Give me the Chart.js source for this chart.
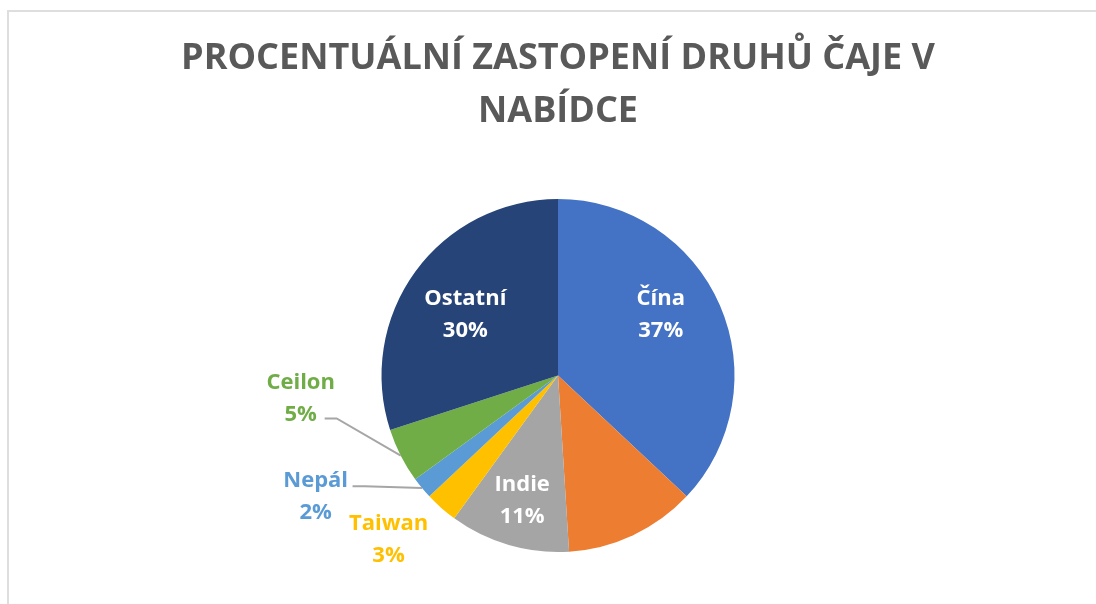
<!DOCTYPE html>
<html>
<head>
<meta charset="utf-8">
<script src="https://cdn.jsdelivr.net/npm/chart.js@4.4.0/dist/chart.umd.min.js"></script>
<style>
    html, body { margin: 0; padding: 0; background: #fff; }
    #wrap { position: relative; width: 1096px; height: 604px; overflow: hidden; }
    #frame {
        position: absolute; left: 7px; top: 10px; width: 1200px; height: 700px;
        border-top: 2px solid #dedede; border-left: 2px solid #dedede;
    }
    #teaChart { position: absolute; left: 0; top: 0; }
</style>
</head>
<body>
<div id="wrap">
    <div id="frame"></div>
    <canvas id="teaChart" width="1096" height="604"></canvas>
</div>
<script>
// data
const categories = ['Čína', 'Japonsko', 'Indie', 'Taiwan', 'Nepál', 'Ceilon', 'Ostatní'];
const shares = [37, 12, 11, 3, 2, 5, 30];
const sliceColors = ['#4472C4', '#ED7D31', '#A5A5A5', '#FFC000', '#5B9BD5', '#70AD47', '#264478'];
const titleLines = ['PROCENTUÁLNÍ ZASTOPENÍ DRUHŮ ČAJE V', 'NABÍDCE'];

// label placement (relative to pie centre, in units of radius); null = no label
const labelPos = [[0.582, -0.356], null, [-0.203, 0.701], [-0.960, 0.918], [-1.373, 0.678], [-1.458, 0.119], [-0.525, -0.356]];
const labelColors = ['#fff', '#fff', '#fff', '#FFC000', '#5B9BD5', '#70AD47', '#fff'];
const leaderStart = [null, null, null, null, [-1.164, 0.627], [-1.322, 0.243], null];

const total = shares.reduce((a, b) => a + b, 0);
const FONT = '"Open Sans", "Liberation Sans", sans-serif';

const pieLabels = {
    id: 'pieLabels',
    afterDatasetsDraw(chart) {
        const ctx = chart.ctx;
        const arcs = chart.getDatasetMeta(0).data;
        ctx.save();
        arcs.forEach((arc, i) => {
            const pos = labelPos[i];
            if (!pos) return;
            const R = arc.outerRadius;
            const cx = arc.x + pos[0] * R;
            const cy = arc.y + pos[1] * R;

            // leader line
            if (leaderStart[i]) {
                const mid = (arc.startAngle + arc.endAngle) / 2;
                const sx = arc.x + leaderStart[i][0] * R;
                const sy = arc.y + leaderStart[i][1] * R;
                ctx.beginPath();
                ctx.moveTo(sx, sy);
                ctx.lineTo(sx + 12, sy);
                ctx.lineTo(arc.x + Math.cos(mid) * R, arc.y + Math.sin(mid) * R);
                ctx.strokeStyle = '#A6A6A6';
                ctx.lineWidth = 2;
                ctx.stroke();
            }

            const pct = Math.round(shares[i] / total * 100) + '%';
            ctx.font = 'bold 22px ' + FONT;
            ctx.fillStyle = labelColors[i];
            ctx.textAlign = 'center';
            ctx.textBaseline = 'alphabetic';
            ctx.fillText(categories[i], cx, cy - 8);
            ctx.fillText(pct, cx, cy + 24);
        });
        ctx.restore();
    }
};

new Chart(document.getElementById('teaChart'), {
    type: 'pie',
    data: {
        labels: categories,
        datasets: [{
            data: shares,
            backgroundColor: sliceColors,
            borderWidth: 0,
            hoverOffset: 0,
            offset: 0
        }]
    },
    options: {
        responsive: false,
        animation: false,
        layout: { padding: { left: 20, right: 0, top: 0, bottom: 52 } },
        plugins: {
            legend: { display: false },
            tooltip: { enabled: false },
            title: {
                display: true,
                text: titleLines,
                color: '#595959',
                font: { family: FONT, size: 36, weight: 'bold', lineHeight: '53px' },
                padding: { top: 32, bottom: 61 }
            }
        }
    },
    plugins: [pieLabels]
});
</script>
</body>
</html>
